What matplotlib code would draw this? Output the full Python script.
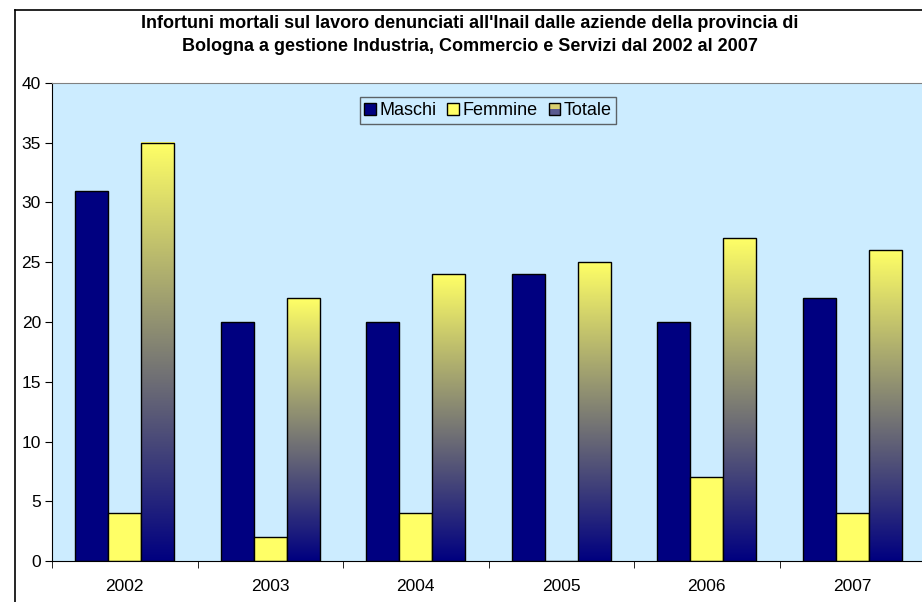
import matplotlib
matplotlib.use('Agg')
import matplotlib.pyplot as plt
import numpy as np
from matplotlib.patches import Rectangle, Patch
from matplotlib.legend_handler import HandlerBase
from matplotlib.colors import LinearSegmentedColormap
from matplotlib.lines import Line2D

plt.rcParams['font.family'] = ['Liberation Sans', 'DejaVu Sans']

# Data
anni = ['2002', '2003', '2004', '2005', '2006', '2007']
maschi = [31, 20, 20, 24, 20, 22]
femmine = [4, 2, 4, 0, 7, 4]
totale = [35, 22, 24, 25, 27, 26]

navy = '#000080'
giallo = '#FFFF66'
sfondo = '#CCECFF'

W, H = 922, 602
fig = plt.figure(figsize=(W / 100, H / 100), dpi=100)
fig.patch.set_facecolor('white')

# chart outer frame (partly cropped on right/bottom)
fig.add_artist(Line2D([15 / W, 15 / W], [0, 1 - 10 / H], color='black', lw=1.2))
fig.add_artist(Line2D([15 / W, 1], [1 - 10 / H, 1 - 10 / H], color='black', lw=1.2))

left, right, top, bottom = 52, 925, 83, 561
ax = fig.add_axes([left / W, 1 - bottom / H, (right - left) / W, (bottom - top) / H])
ax.set_facecolor(sfondo)

x = np.arange(len(anni))
w = 0.227
ax.bar(x - w, maschi, w, color=navy, edgecolor='black', linewidth=1, zorder=2)
ax.bar(x, femmine, w, color=giallo, edgecolor='black', linewidth=1, zorder=2)

# Totale: yellow-to-navy gradient per bar
grad_cmap = LinearSegmentedColormap.from_list('grad', [navy, giallo])
grad = np.linspace(0, 1, 256).reshape(-1, 1)
bars_tot = ax.bar(x + w, totale, w, color='none', edgecolor='black', linewidth=1, zorder=3)
for b in bars_tot:
    x0, y0 = b.get_x(), b.get_y()
    ax.imshow(grad, cmap=grad_cmap, origin='lower', aspect='auto',
              extent=[x0, x0 + b.get_width(), y0, y0 + b.get_height()], zorder=2.5)

ax.set_xlim(-0.5, len(anni) - 0.5)
ax.set_ylim(0, 40)
ax.set_yticks(np.arange(0, 41, 5))
ax.set_xticks(x)
ax.set_xticklabels(anni)
ax.set_xticks(np.arange(-0.5, len(anni), 1), minor=True)
ax.tick_params(axis='x', which='major', length=0, pad=13, labelsize=12.5)
ax.tick_params(axis='x', which='minor', length=5, direction='out', color='black')
ax.tick_params(axis='y', length=5, direction='out', labelsize=12.5, pad=3)

ax.spines['top'].set_color('#808080')
ax.spines['right'].set_color('#808080')
ax.spines['left'].set_color('black')
ax.spines['bottom'].set_color('black')

fig.text(470 / W, 1 - 35 / H,
         "Infortuni mortali sul lavoro denunciati all'Inail dalle aziende della provincia di\n"
         "Bologna a gestione Industria, Commercio e Servizi dal 2002 al 2007",
         ha='center', va='center', fontsize=13, fontweight='bold', linespacing=1.45)


class HalfHandler(HandlerBase):
    def create_artists(self, legend, orig_handle, xdescent, ydescent,
                       width, height, fontsize, trans):
        x0, y0 = -xdescent, -ydescent
        top = Rectangle((x0, y0 + height / 2), width, height / 2,
                        facecolor='#D8D070', edgecolor='none', transform=trans)
        bot = Rectangle((x0, y0), width, height / 2,
                        facecolor='#5A5A90', edgecolor='none', transform=trans)
        edge = Rectangle((x0, y0), width, height, facecolor='none',
                         edgecolor='black', lw=1, transform=trans)
        return [top, bot, edge]


handles = [Patch(facecolor=navy, edgecolor='black'),
           Patch(facecolor=giallo, edgecolor='black'),
           Patch(facecolor='none', edgecolor='black')]
leg = fig.legend(handles, ['Maschi', 'Femmine', 'Totale'],
                 handler_map={handles[2]: HalfHandler()},
                 loc='center', bbox_to_anchor=(488 / W, 1 - 110.5 / H),
                 ncol=3, fontsize=13, frameon=True, fancybox=False,
                 handlelength=0.65, handleheight=0.65, handletextpad=0.2,
                 columnspacing=0.6, borderpad=0.25, borderaxespad=0)
leg.get_frame().set_facecolor(sfondo)
leg.get_frame().set_edgecolor('#404040')
leg.get_frame().set_linewidth(1)

fig.savefig('out.png', dpi=100)
